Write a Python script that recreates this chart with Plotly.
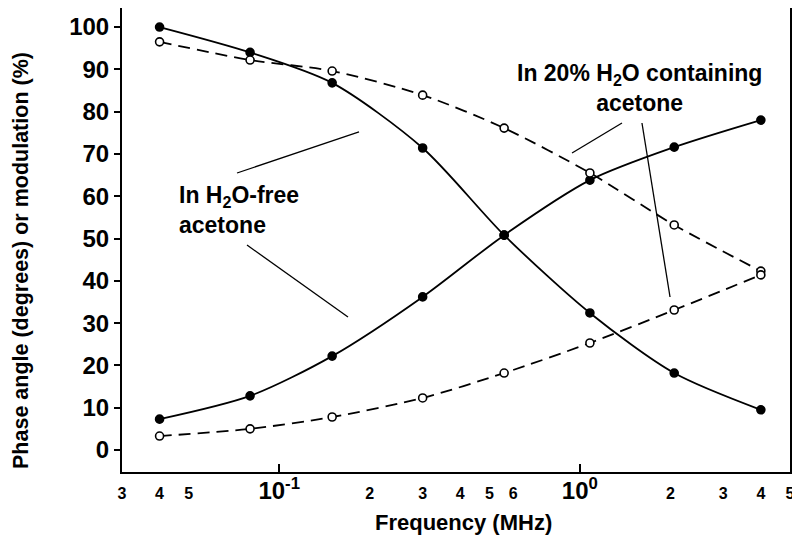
import plotly.graph_objects as go

# Frequencies (MHz)
freq = [0.04, 0.08, 0.15, 0.3, 0.56, 1.08, 2.06, 4.0]
# H2O-free acetone (filled circles, solid lines)
free_modulation = [100, 94, 86.8, 71.4, 50.8, 32.4, 18.2, 9.5]
free_phase = [7.3, 12.8, 22.2, 36.2, 50.8, 63.8, 71.6, 78.0]
# 20% H2O containing acetone (open circles, dashed lines)
wet_modulation = [96.5, 92.2, 89.6, 83.9, 76.1, 65.5, 53.2, 42.3]
wet_phase = [3.3, 5.0, 7.8, 12.3, 18.2, 25.3, 33.1, 41.4]

x_tickvals = [0.03, 0.04, 0.05, 0.1, 0.2, 0.3, 0.4, 0.5, 0.6, 1, 2, 3, 4, 5]
big = "<span style='font-size:24px'>10<sup>%s</sup></span>"
x_ticktext = ["3", "4", "5", big % "-1", "2", "3", "4", "5", "6", big % "0", "2", "3", "4", "5"]
y_tickvals = [0, 10, 20, 30, 40, 50, 60, 70, 80, 90, 100]

FONT = "Liberation Sans, Arial, sans-serif"

fig = go.Figure()

def add_series(y, dash, filled):
    fig.add_trace(go.Scatter(
        x=freq, y=y, mode="lines+markers",
        line=dict(color="black", width=1.8, dash=dash, shape="spline", smoothing=0.8),
        marker=dict(size=8, color="black" if filled else "white",
                    line=dict(color="black", width=1.6)),
        showlegend=False, cliponaxis=False,
    ))

add_series(free_modulation, "solid", True)
add_series(free_phase, "solid", True)
add_series(wet_modulation, "12px,7px", False)
add_series(wet_phase, "12px,7px", False)

# pointer lines (paper coords)
pointers = [
    (0.1722, 0.6444, 0.3548, 0.7328),
    (0.1871, 0.4892, 0.3383, 0.3341),
    (0.7485, 0.7522, 0.6737, 0.6875),
    (0.7784, 0.7522, 0.8204, 0.3772),
]
for x0, y0, x1, y1 in pointers:
    fig.add_shape(type="line", xref="paper", yref="paper", x0=x0, y0=y0, x1=x1, y1=y1,
                  line=dict(color="black", width=1.3))

fig.add_annotation(xref="paper", yref="paper", x=0.0823, y=0.5657, xanchor="left", yanchor="middle",
                   text="In H<sub>2</sub>O-free<br>acetone", showarrow=False, align="left",
                   font=dict(family=FONT, size=23, color="black", weight="bold"))
fig.add_annotation(xref="paper", yref="paper", x=0.7754, y=0.8276, xanchor="center", yanchor="middle",
                   text="In 20% H<sub>2</sub>O containing<br>acetone", showarrow=False, align="center",
                   font=dict(family=FONT, size=23, color="black", weight="bold"))

# axis titles
fig.add_annotation(xref="paper", yref="paper", x=-0.1512, y=0.4569, xanchor="center", yanchor="middle",
                   text="Phase angle (degrees) or modulation (%)", textangle=-90, showarrow=False,
                   font=dict(family=FONT, size=21.5, color="black", weight="bold"))
fig.add_annotation(xref="paper", yref="paper", x=0.5105, y=-0.1099, xanchor="center", yanchor="middle",
                   text="Frequency (MHz)", showarrow=False,
                   font=dict(family=FONT, size=22, color="black", weight="bold"))

fig.update_layout(
    width=792, height=542,
    margin=dict(l=114, r=10, t=0, b=78),
    paper_bgcolor="white", plot_bgcolor="white",
    font=dict(family=FONT, color="black"),
    xaxis=dict(
        type="log", range=[-1.5229, 0.699], automargin=False,
        tickvals=x_tickvals, ticktext=x_ticktext, ticks="",
        tickfont=dict(size=16, weight="bold"), ticklabelstandoff=6,
        showline=True, linecolor="black", linewidth=2, mirror=True,
        showgrid=False, zeroline=False,
        minor=dict(tickvals=[0.1, 1], ticks="inside", ticklen=8, tickcolor="black", tickwidth=1.5, showgrid=False),
    ),
    yaxis=dict(
        range=[-5.2, 104.5], tickvals=y_tickvals, automargin=False,
        ticks="outside", ticklen=6, tickwidth=1.5, tickcolor="black",
        tickfont=dict(size=24, weight="bold"),
        showline=True, linecolor="black", linewidth=2, mirror="ticks",
        showgrid=False, zeroline=False,
    ),
)

fig.write_html("out.html")
